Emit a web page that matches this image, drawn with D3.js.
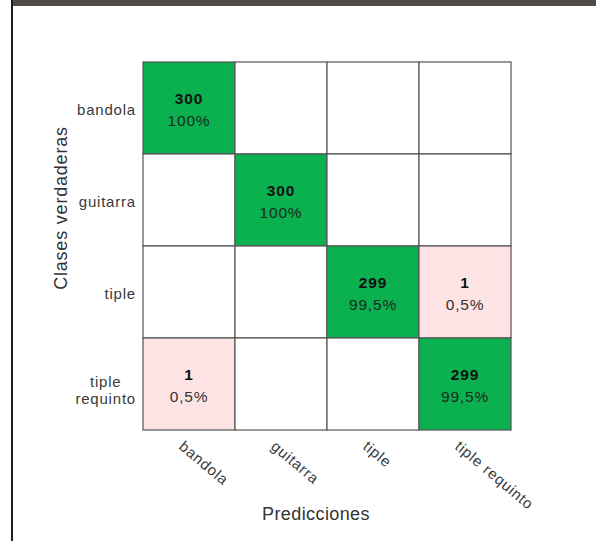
<!DOCTYPE html>
<html>
<head>
<meta charset="utf-8">
<script src="https://cdn.jsdelivr.net/npm/d3@7"></script>
<style>
  html, body { margin: 0; padding: 0; background: #fff; }
  svg { display: block; }
  text { font-family: "Liberation Sans", Arial, sans-serif; }
</style>
</head>
<body>
<svg id="chart" width="596" height="541"></svg>
<script>
// ---- data ----
const classes = ["bandola", "guitarra", "tiple", "tiple requinto"];
const counts = [
  [300, 0, 0, 0],
  [0, 300, 0, 0],
  [0, 0, 299, 1],
  [1, 0, 0, 299]
];
const percents = [
  [100, 0, 0, 0],
  [0, 100, 0, 0],
  [0, 0, 99.5, 0.5],
  [0.5, 0, 0, 99.5]
];
const yTitle = "Clases verdaderas";
const xTitle = "Predicciones";

// ---- layout ----
const svg = d3.select("#chart");
const W = 596, H = 541;
const gridLeft = 143, gridTop = 62, gridRight = 511, gridBottom = 430;

// frame decorations
svg.append("rect").attr("x", 13).attr("y", 0).attr("width", W - 13).attr("height", 6).attr("fill", "#524a47");
svg.append("rect").attr("x", 11).attr("y", 0).attr("width", 2).attr("height", H).attr("fill", "#1e1e1e");

const x = d3.scaleBand().domain(classes).range([gridLeft, gridRight]);
const y = d3.scaleBand().domain(classes).range([gridTop, gridBottom]);

const cells = [];
counts.forEach((row, i) => row.forEach((v, j) => {
  cells.push({ r: classes[i], c: classes[j], v, p: percents[i][j], diag: i === j });
}));

const fillOf = d => d.v === 0 ? "#ffffff" : (d.diag ? "#0bb04f" : "#fde3e3");
const fmtPct = p => (p % 1 === 0 ? String(p) : p.toFixed(1).replace(".", ",")) + "%";

const g = svg.append("g");
g.selectAll("rect.cell").data(cells).join("rect")
  .attr("class", "cell")
  .attr("x", d => x(d.c)).attr("y", d => y(d.r))
  .attr("width", x.bandwidth()).attr("height", y.bandwidth())
  .attr("fill", fillOf)
  .attr("stroke", "#555").attr("stroke-width", 1.2);

const nz = cells.filter(d => d.v !== 0);
g.selectAll("text.count").data(nz).join("text")
  .attr("class", "count")
  .attr("x", d => x(d.c) + x.bandwidth() / 2)
  .attr("y", d => y(d.r) + y.bandwidth() / 2 - 4)
  .attr("text-anchor", "middle")
  .attr("font-size", 15.5).attr("font-weight", "bold")
  .attr("letter-spacing", 0.8)
  .attr("fill", "#111")
  .text(d => d.v);
g.selectAll("text.pct").data(nz).join("text")
  .attr("class", "pct")
  .attr("x", d => x(d.c) + x.bandwidth() / 2)
  .attr("y", d => y(d.r) + y.bandwidth() / 2 + 18)
  .attr("text-anchor", "middle")
  .attr("font-size", 15.5)
  .attr("letter-spacing", 0.8)
  .attr("fill", d => d.diag ? "#1a2a1f" : "#333")
  .text(d => fmtPct(d.p));

// y axis
const yAxis = svg.append("g").attr("transform", `translate(${gridLeft},0)`)
  .call(d3.axisLeft(y).tickSize(0).tickPadding(7));
yAxis.select(".domain").remove();
yAxis.selectAll("text")
  .attr("font-size", 15).attr("letter-spacing", 0.8).attr("fill", "#3a3a3a")
  .attr("font-family", "Liberation Sans, Arial, sans-serif")
  .each(function(d) {
    const words = d.split(" ");
    if (words.length > 1) {
      const t = d3.select(this);
      t.text(null).attr("text-anchor", "middle").attr("dy", null);
      const tsp = words.map((w, k) => t.append("tspan").attr("dy", k === 0 ? "0.2em" : "1.15em").text(w));
      const widths = tsp.map(s => s.node().getComputedTextLength());
      const maxW = Math.max(...widths);
      const cx = -7 - maxW / 2;
      tsp.forEach(s => s.attr("x", cx));
      t.attr("x", cx);
    } else {
      d3.select(this).attr("dy", "0.45em");
    }
  });

// x axis
const xAxis = svg.append("g").attr("transform", `translate(0,${gridBottom})`)
  .call(d3.axisBottom(x).tickSize(0));
xAxis.select(".domain").remove();
xAxis.selectAll("text")
  .attr("font-size", 15).attr("letter-spacing", 0.8).attr("fill", "#3a3a3a")
  .attr("font-family", "Liberation Sans, Arial, sans-serif")
  .attr("text-anchor", "start")
  .attr("x", 0).attr("y", 0).attr("dy", 0)
  .attr("transform", "translate(-11,18) rotate(40)");

// titles
svg.append("text")
  .attr("transform", "translate(67,208) rotate(-90)")
  .attr("text-anchor", "middle")
  .attr("font-size", 18).attr("letter-spacing", 0.8).attr("fill", "#333")
  .text(yTitle);
svg.append("text")
  .attr("x", 316).attr("y", 520)
  .attr("text-anchor", "middle")
  .attr("font-size", 18).attr("letter-spacing", 0.4).attr("fill", "#333")
  .text(xTitle);
</script>
</body>
</html>
